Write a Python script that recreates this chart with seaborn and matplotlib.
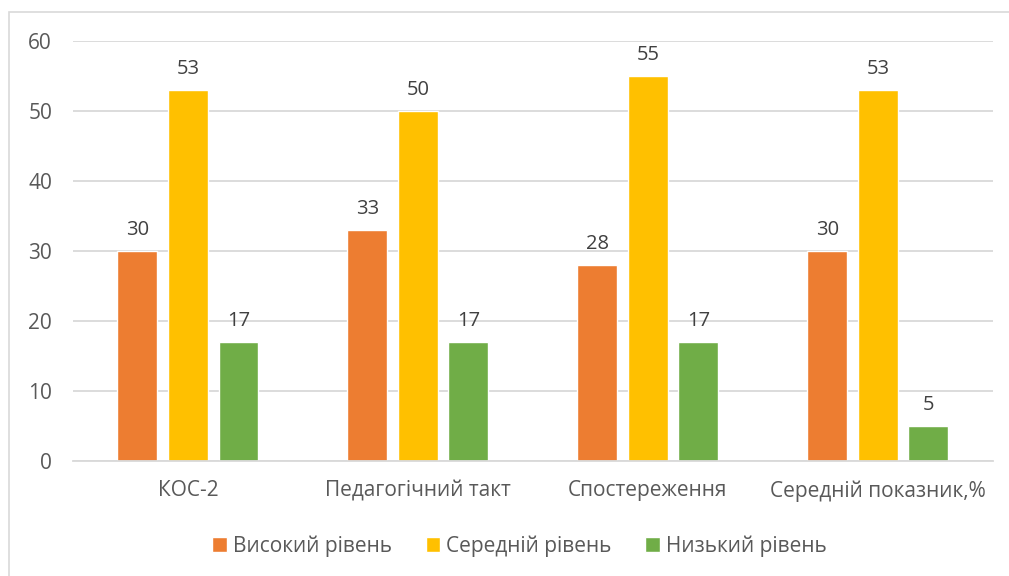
import pandas as pd
import matplotlib.pyplot as plt
import seaborn as sns
from matplotlib.patches import Rectangle, Patch

# Data
categories = ['КОС-2', 'Педагогічний такт', 'Спостереження', 'Середній показник,%']
levels = ['Високий рівень', 'Середній рівень', 'Низький рівень']
high = [30, 33, 28, 30]
medium = [53, 50, 55, 53]
low = [17, 17, 17, 5]

colors = ['#ED7D31', '#FFC000', '#70AD47']

df = pd.DataFrame({
    'category': categories * 3,
    'level': [levels[0]] * 4 + [levels[1]] * 4 + [levels[2]] * 4,
    'value': high + medium + low,
})

sns.set_theme(style='white')
plt.rcParams['font.family'] = ['Open Sans', 'DejaVu Sans']

fig = plt.figure(figsize=(10.09, 5.76), dpi=100)
ax = fig.add_axes([0.0723, 0.1997, 0.9117, 0.7291])

sns.barplot(data=df, x='category', y='value', hue='level', palette=colors,
            width=0.659, gap=0.21, ax=ax, legend=False, saturation=1)

for c in ax.containers:
    ax.bar_label(c, padding=8, fontsize=14.5, color='#404040')

ax.set_ylim(0, 60)
ax.set_yticks(range(0, 61, 10))
ax.yaxis.grid(True, color='#D9D9D9', linewidth=1.3)
ax.set_axisbelow(True)
ax.set_xlabel('')
ax.set_ylabel('')
for s in ['top', 'right', 'left']:
    ax.spines[s].set_visible(False)
ax.spines['bottom'].set_color('#D9D9D9')
ax.spines['bottom'].set_linewidth(1.3)
ax.tick_params(axis='both', length=0, labelsize=15, labelcolor='#595959')
ax.tick_params(axis='x', pad=14)
ax.tick_params(axis='y', pad=15)

handles = [Patch(facecolor=col, label=lab) for col, lab in zip(colors, levels)]
fig.legend(handles=handles, loc='center', bbox_to_anchor=(0.515, 0.052), ncol=3,
           frameon=False, fontsize=15, labelcolor='#595959', handlelength=0.7,
           handleheight=0.7, handletextpad=0.3, columnspacing=1.6)

# chart border (only top/left visible in the crop)
fig.patches.append(Rectangle((9 / 1009, -0.1), 1.2, 1.1 - 12 / 576,
                             transform=fig.transFigure, fill=False,
                             edgecolor='#D9D9D9', linewidth=1.2))

fig.savefig('out.png', dpi=100)
